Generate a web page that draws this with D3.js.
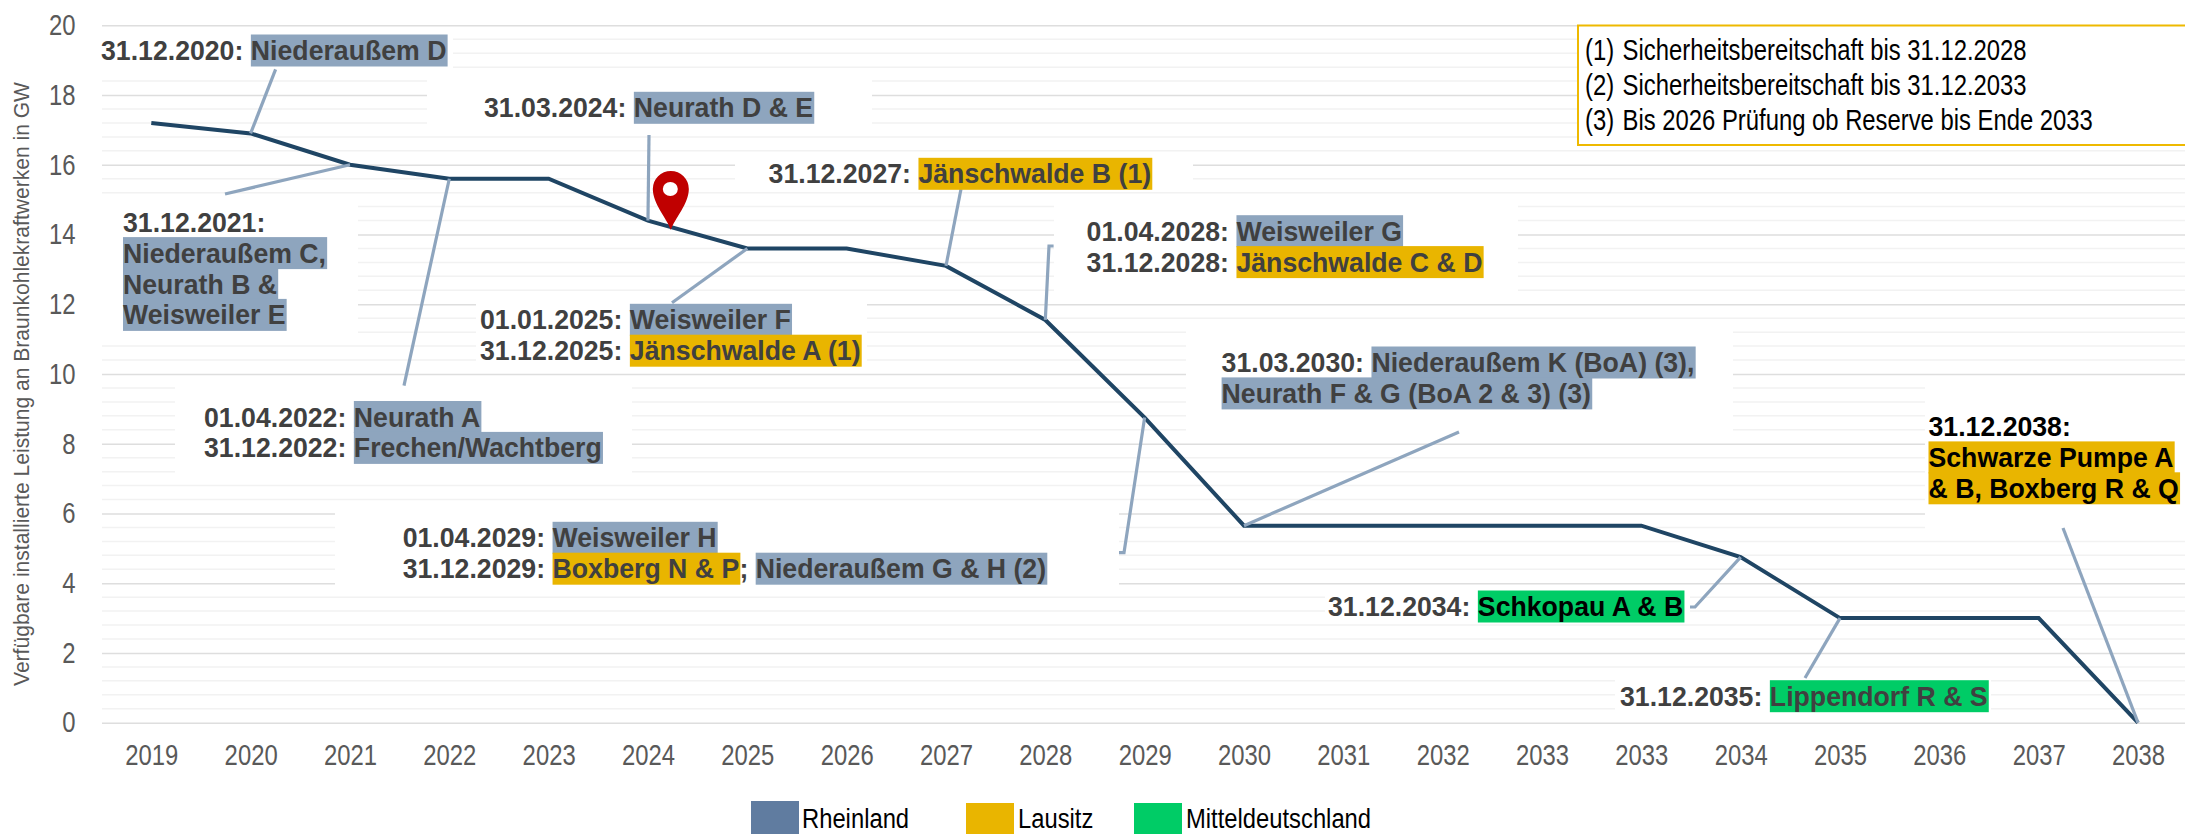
<!DOCTYPE html>
<head>
    <meta charset="utf-8">
    <script src="https://d3js.org/d3.v7.min.js"></script>
    <style>
      html, body { margin: 0; padding: 0; background: #fff; overflow: hidden; }
      svg { display: block; }
      text { font-family: "Liberation Sans", Arial, sans-serif; white-space: pre; }
      .lab { font-size: 28px; font-weight: bold; fill: #404040; }
      .thin { font-size: 29px; }
    </style>
<body>
    <script>
        // axis
        var years = ["2019","2020","2021","2022","2023","2024","2025","2026","2027","2028","2029","2030","2031","2032","2033","2033","2034","2035","2036","2037","2038"];
        var capacity = [17.2,16.9,16.0,15.6,15.6,14.4,13.6,13.6,13.1,11.55,8.75,5.65,5.65,5.65,5.65,5.65,4.75,3.0,3.0,3.0,0];
        var majorTicks = [0,2,4,6,8,10,12,14,16,18,20];
        var axisTitle = "Verfügbare installierte Leistung an Braunkohlekraftwerken in GW";

        var regions = ["Rheinland","Lausitz","Mitteldeutschland"];
        var regionFill = {Rheinland:"#8ea5be", Lausitz:"#e9b500", Mitteldeutschland:"#00cc66"};
        var legendFill = {Rheinland:"#607ca0", Lausitz:"#e9b500", Mitteldeutschland:"#00cc66"};
        var notes = ["Sicherheitsbereitschaft bis 31.12.2028","Sicherheitsbereitschaft bis 31.12.2033","Bis 2026 Prüfung ob Reserve bis Ende 2033"];

        // each label: lines of [text, region]
        var labels = [
          [[["31.12.2020: ",null],["Niederaußem D","Rheinland"]]],
          [[["31.03.2024: ",null],["Neurath D & E","Rheinland"]]],
          [[["31.12.2021:",null]],[["Niederaußem C,","Rheinland"]],[["Neurath B &","Rheinland"]],[["Weisweiler E","Rheinland"]]],
          [[["01.01.2025: ",null],["Weisweiler F","Rheinland"]],[["31.12.2025: ",null],["Jänschwalde A (1)","Lausitz"]]],
          [[["01.04.2022: ",null],["Neurath A","Rheinland"]],[["31.12.2022: ",null],["Frechen/Wachtberg","Rheinland"]]],
          [[["31.12.2027: ",null],["Jänschwalde B (1)","Lausitz"]]],
          [[["01.04.2028: ",null],["Weisweiler G","Rheinland"]],[["31.12.2028: ",null],["Jänschwalde C & D","Lausitz"]]],
          [[["31.03.2030: ",null],["Niederaußem K (BoA) (3),","Rheinland"]],[["Neurath F & G (BoA 2 & 3) (3)","Rheinland"]]],
          [[["01.04.2029: ",null],["Weisweiler H","Rheinland"]],[["31.12.2029: ",null],["Boxberg N & P","Lausitz"],["; ",null],["Niederaußem G & H (2)","Rheinland"]]],
          [[["31.12.2034: ",null],["Schkopau A & B","Mitteldeutschland"]]],
          [[["31.12.2035: ",null],["Lippendorf R & S","Mitteldeutschland"]]],
          [[["31.12.2038:",null]],[["Schwarze Pumpe A","Lausitz"]],[["& B, Boxberg R & Q","Lausitz"]]]
        ];
        // left edge, first baseline, text colour of the highlighted part
        var labelPos = [
          [101,60,"#404040"],[484,117.3,"#404040"],[123,231.7,"#404040"],[480,329.3,"#404040"],
          [204,426.5,"#404040"],[768.6,183.3,"#404040"],[1086.6,240.7,"#404040"],[1221.6,372,"#404040"],
          [402.7,547.3,"#404040"],[1328,616,"#000"],[1620,705.7,"#404040"],[1928.5,436,"#000"]
        ];

        // white boxes that cut the gridlines behind the labels: x0,y0,x1,y1
        var masks = [
          [102,33,453,75],[427,75,872,130],[102,200,358,340],[476,297,867,368],[175,381,632,478],
          [735,158,1193,186],[1054,200,1518,297],[1186,325,1733,437],[1925,381,2185,534],
          [335,506,1119,590],[1325,590,1690,622],[1615,675,1991,716]
        ];

        // leader lines: year index, then pixel points towards the label
        var leaders = [
          [1,[[275.6,69.3]]],[2,[[225,194]]],[3,[[404,385.7]]],[5,[[649,135]]],[6,[[672,302.7]]],
          [8,[[961,189]]],[9,[[1049,246],[1053.6,246]]],[10,[[1124,552.7],[1119,552.7]]],
          [11,[[1459,432]]],[16,[[1695,607],[1690,607]]],[17,[[1805,678]]],[20,[[2063,528]]]
        ];

        var w = 2185, h = 834;
        var boldSqueeze = 0.953, thinSqueeze = 0.822;
        var svg = d3.select("body").append("svg").attr("width", w).attr("height", h);

        var x = d3.scalePoint().domain(d3.range(years.length)).range([151.3, 2138]);
        var y = d3.scaleLinear().domain([0, 20]).range([722.7, 25.3]);

        // narrow the glyphs the way the stretched original looks
        function squeeze(sel, k) {
          sel.each(function() {
            var l = this.getComputedTextLength();
            d3.select(this).attr("textLength", l*k).attr("lengthAdjust", "spacingAndGlyphs");
          });
        }
        function place(t, px, py, k) {
          t.attr("transform", "translate(" + px + "," + py + ") scale(" + k + ",1)");
        }

        // minor grid
        svg.append("g").selectAll("line")
          .data(d3.range(0, 100).map(function(d){return d*0.4;}).filter(function(d){return d < 20.01 && Math.round(d/0.4)%5 != 0;}))
          .enter().append("line")
          .attr("x1", 102).attr("x2", w)
          .attr("y1", function(d){return y(d);}).attr("y2", function(d){return y(d);})
          .attr("stroke", "#f2f2f2").attr("stroke-width", 1.5);

        // y axis with major grid
        var yAxis = svg.append("g")
          .attr("transform", "translate(102,0)")
          .call(d3.axisLeft(y).tickValues(majorTicks).tickSize(-(w-102)).tickPadding(26.6));
        yAxis.select(".domain").remove();
        yAxis.selectAll("line").attr("stroke", "#dedede").attr("stroke-width", 1.5);
        yAxis.selectAll("text").attr("fill", "#595959").style("font-size", "29px");
        squeeze(yAxis.selectAll("text"), thinSqueeze);

        // x axis
        var xAxis = svg.append("g")
          .attr("transform", "translate(0,722.7)")
          .call(d3.axisBottom(x).tickFormat(function(i){return years[i];}).tickSize(0).tickPadding(22));
        xAxis.select(".domain").remove();
        xAxis.selectAll("text").attr("fill", "#595959").style("font-size", "29px");
        squeeze(xAxis.selectAll("text"), thinSqueeze);

        // gaps in the grid
        svg.append("g").selectAll("rect").data(masks).enter().append("rect")
          .attr("x", function(d){return d[0];}).attr("y", function(d){return d[1];})
          .attr("width", function(d){return d[2]-d[0];}).attr("height", function(d){return d[3]-d[1];})
          .attr("fill", "#fff");

        // axis title
        var title = svg.append("text")
          .attr("transform", "translate(29,384) rotate(-90)")
          .attr("text-anchor", "middle")
          .attr("fill", "#595959")
          .style("font-size", "22px")
          .text(axisTitle);
        title.attr("textLength", 604).attr("lengthAdjust", "spacingAndGlyphs");

        // capacity line
        var line = d3.line().x(function(d,i){return x(i);}).y(function(d){return y(d);});
        svg.append("path").datum(capacity)
          .attr("d", line).attr("fill", "none")
          .attr("stroke", "#1f4564").attr("stroke-width", 4).attr("stroke-linejoin", "miter");

        // leaders
        svg.append("g").selectAll("path").data(leaders).enter().append("path")
          .attr("d", function(d){
            return d3.line()([[x(d[0]), y(capacity[d[0]])]].concat(d[1]));
          })
          .attr("fill", "none").attr("stroke", "#8ea5be").attr("stroke-width", 3.2);

        // labels
        var lineStep = 30.9;
        labels.forEach(function(lab, n) {
          var g = svg.append("g");
          var rects = g.append("g");
          lab.forEach(function(segs, li) {
            var cx = labelPos[n][0], base = labelPos[n][1] + li*lineStep;
            segs.forEach(function(s) {
              var t = g.append("text").attr("class", "lab").text(s[0]);
              var len = t.node().getComputedTextLength()*boldSqueeze;
              place(t, cx, base, boldSqueeze);
              if (s[1]) {
                rects.append("rect").attr("x", cx).attr("y", base-25.5).attr("width", len+1).attr("height", 32)
                  .attr("fill", regionFill[s[1]]);
                t.style("fill", labelPos[n][2]);
              } else if (n == 11) {
                t.style("fill", "#000");
              }
              cx += len;
            });
          });
        });

        // pin
        var pin = svg.append("g").attr("transform", "translate(" + (x(5)+0.23*x.step()) + "," + y(14.13) + ")");
        pin.append("path").attr("d", "M0,0 C-4,-12 -18,-26 -18,-41 A18,18 0 1 1 18,-41 C18,-26 4,-12 0,0Z").attr("fill", "#c00000");
        pin.append("ellipse").attr("cx", -0.5).attr("cy", -41).attr("rx", 7.5).attr("ry", 7).attr("fill", "#fff");

        // footnote box
        svg.append("rect").attr("x", 1578).attr("y", 25.5).attr("width", 620).attr("height", 119.5)
          .attr("fill", "#fff").attr("stroke", "#eeb900").attr("stroke-width", 2);
        notes.forEach(function(n, i) {
          var b = 60 + i*35;
          var a = svg.append("text").attr("class", "thin").attr("fill", "#000").text("(" + (i+1) + ")");
          var c = svg.append("text").attr("class", "thin").attr("fill", "#000").text(n);
          place(a, 1585, b, thinSqueeze); place(c, 1622.6, b, thinSqueeze);
        });

        // legend
        var legendX = [751, 966, 1134], legendTextX = [802, 1018, 1186];
        regions.forEach(function(r, i) {
          svg.append("rect").attr("x", legendX[i]).attr("y", i == 0 ? 801 : 803)
            .attr("width", 48).attr("height", 33).attr("fill", legendFill[r]);
          var t = svg.append("text").attr("class", "thin").style("font-size", "27.5px")
            .attr("fill", "#000").text(r);
          place(t, legendTextX[i], 827.5, 0.865);
        });
    </script>
</body>
